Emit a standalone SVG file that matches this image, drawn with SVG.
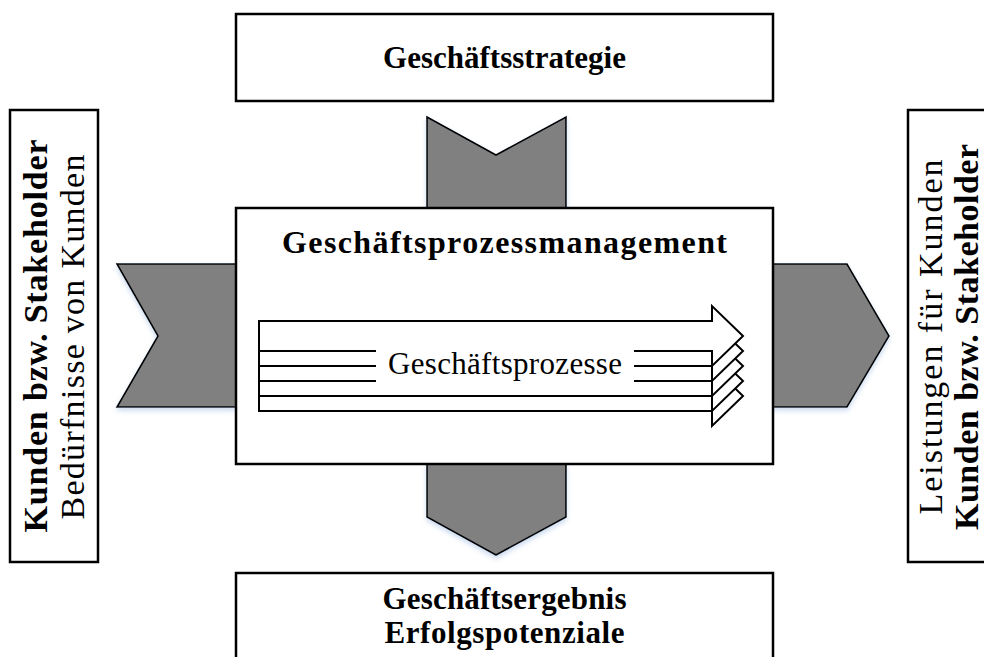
<svg xmlns="http://www.w3.org/2000/svg" width="984" height="657" viewBox="0 0 984 657">
  <defs>
    <filter id="glow" x="-20%" y="-20%" width="140%" height="150%">
      <feDropShadow dx="0" dy="3" stdDeviation="2.5" flood-color="#8fb0dc" flood-opacity="0.45"/>
    </filter>
  </defs>
  <style>
    .box { fill: #ffffff; stroke: #000000; stroke-width: 2.5; }
    .flow { fill: #808080; stroke: #000000; stroke-width: 1.6; stroke-linejoin: miter; filter: url(#glow); }
    .arr { fill: #ffffff; stroke: #000000; stroke-width: 2; stroke-linejoin: miter; }
    .t { font-family: "Liberation Serif", "Times New Roman", serif; fill: #000000; }
    .b { font-weight: bold; font-size: 31px; }
    .r { font-weight: normal; font-size: 31px; }
    .side { font-size: 34px; }
    .title { font-size: 32px; }
  </style>

  <rect width="984" height="657" fill="#ffffff"/>

  <!-- flow chevrons between the boxes -->
  <g id="connectors">
    <polygon class="flow" points="427,117 496,155 566,117 566,208 427,208"/>
    <polygon class="flow" points="427,464 566,464 566,517 496,555 427,517"/>
    <polygon class="flow" points="117,264 236,264 236,407 117,407 158,336"/>
    <polygon class="flow" points="773,264 847,264 889,336 847,407 773,407"/>
  </g>

  <g id="strategie">
    <rect class="box" x="236" y="14" width="537" height="87"/>
    <text class="t b" x="504.5" y="68" text-anchor="middle" textLength="243" lengthAdjust="spacing">Geschäftsstrategie</text>
  </g>

  <g id="ergebnis">
    <rect class="box" x="236" y="573" width="537" height="100"/>
    <text class="t b" x="504.5" y="609" text-anchor="middle" textLength="244" lengthAdjust="spacing">Geschäftsergebnis</text>
    <text class="t b" x="504.5" y="643" text-anchor="middle" textLength="240" lengthAdjust="spacing">Erfolgspotenziale</text>
  </g>

  <g id="kunden-links">
    <rect class="box" x="10" y="110" width="88" height="452"/>
    <text class="t b side" transform="translate(47,336) rotate(-90)" text-anchor="middle" textLength="393" lengthAdjust="spacing">Kunden bzw. Stakeholder</text>
    <text class="t r side" transform="translate(84,337) rotate(-90)" text-anchor="middle" textLength="365" lengthAdjust="spacing">Bedürfnisse von Kunden</text>
  </g>

  <g id="kunden-rechts">
    <rect class="box" x="908" y="110" width="90" height="452"/>
    <text class="t r side" transform="translate(942,337) rotate(-90)" text-anchor="middle" textLength="355" lengthAdjust="spacing">Leistungen für Kunden</text>
    <text class="t b side" transform="translate(978,337) rotate(-90)" text-anchor="middle" textLength="386" lengthAdjust="spacing">Kunden bzw. Stakeholder</text>
  </g>

  <g id="prozessmanagement">
    <rect class="box" x="236" y="208" width="537" height="256"/>
    <text class="t b title" x="504.5" y="253" text-anchor="middle" textLength="445" lengthAdjust="spacing">Geschäftsprozessmanagement</text>

    <!-- stacked process arrows, back to front -->
    <g id="prozesse">
      <polygon class="arr" points="259,381 712,381 712,366 743,396 712,426 712,411 259,411"/>
      <polygon class="arr" points="259,366 712,366 712,351 743,381 712,411 712,396 259,396"/>
      <polygon class="arr" points="259,351 712,351 712,336 743,366 712,396 712,381 259,381"/>
      <polygon class="arr" points="259,336 712,336 712,321 743,351 712,381 712,366 259,366"/>
      <polygon class="arr" points="259,321 712,321 712,306 743,336 712,366 712,351 259,351"/>
      <rect x="376" y="344" width="258" height="44" fill="#ffffff"/>
      <text class="t r" x="505" y="374" text-anchor="middle" textLength="234" lengthAdjust="spacing">Geschäftsprozesse</text>
    </g>
  </g>
</svg>
